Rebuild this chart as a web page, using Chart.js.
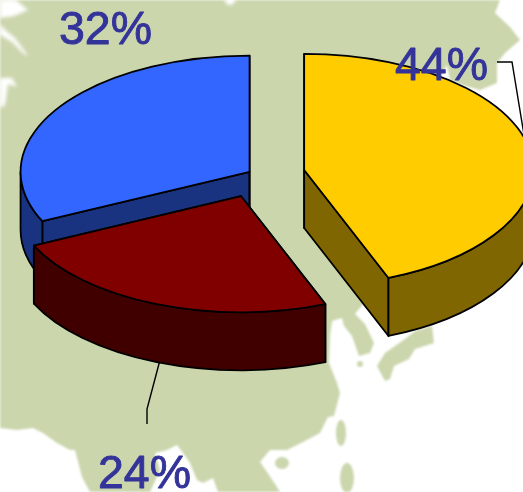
<!DOCTYPE html>
<html>
<head>
<meta charset="utf-8">
<title>Share chart</title>
<script src="https://cdn.jsdelivr.net/npm/chart.js@4"></script>
<style>
    html, body { margin: 0; padding: 0; background: #fff; overflow: hidden; }
    #wrap { position: relative; width: 523px; height: 492px; overflow: hidden; }
    #map { position: absolute; left: 0; top: 0; filter: blur(0.8px); }
    #chartpie { position: absolute; left: 0; top: 0; }
</style>
</head>
<body>
<div id="wrap">
    <!-- map behind the pie -->
    <svg id="map" width="523" height="492" viewBox="0 0 523 492">
        <defs><filter id="soft"><feGaussianBlur stdDeviation="1.6"/></filter></defs>
        <g fill="#cbd6ad">
            <polygon points="0,0 500,0 495,13 510,27 520,40 505,53 497,63 497,83 480,90 462,85 450,80 447,65 443,72 420,150 400,250 364,303 355,314 365,324 374,343 370,353 359,356 352,336 344,326 342,318 332,321 330,336 329,363 337,383 340,393 334,416 328,417 320,433 303,442 287,450 270,450 260,462 267,472 277,487 280,492 218,492 213,478 203,483 197,480 190,463 183,453 177,445 167,450 155,453 160,470 150,492 90,492 82,477 75,450 70,450 57,443 43,433 33,428 17,430 0,428"/>
            <ellipse cx="282" cy="463" rx="7" ry="6"/>
            <ellipse cx="341" cy="433" rx="5" ry="13"/>
            <ellipse cx="347" cy="478" rx="7" ry="15"/>
            <polygon points="432,326 434,343 415,349 409,359 394,366 390,379 385,381 377,366 385,353 405,339 415,331"/>
            <circle cx="360" cy="364" r="3"/>
        </g>
        <g fill="#fff" filter="url(#soft)">
            <polygon points="0,0 16,0 28,10 14,16 0,18"/>
            <polygon points="0,24 5,30 15,38 24,50 28,56 24,54 12,42 2,36 0,35"/>
            <polygon points="0,78 12,78 17,87 8,84 5,105 0,108"/>
            <circle cx="230" cy="0" r="5"/>
        </g>
    </svg>
    <canvas id="chartpie" width="523" height="492"></canvas>
</div>
<script>
const categories = ['Yellow', 'Red', 'Blue'];
const shareValues = [44, 24, 32];

const topColors = ['#ffcc00', '#800000', '#3366ff'];
const wallColors = ['#806600', '#400000', '#1a3380'];
const sliceOffsets = [47, 46, 10];

// Tilted pie: reads the arc geometry from Chart.js and paints it as a squashed disc with a wall
const tiltedPie = {
    id: 'tiltedPie',
    beforeDatasetDraw(chart, args, opts) {
        const ctx = chart.ctx;
        const arcs = chart.getDatasetMeta(0).data;

        // Leader lines go under the slices
        ctx.save();
        ctx.strokeStyle = '#000';
        ctx.lineWidth = 1.4;
        opts.leaders.forEach(line => {
            ctx.beginPath();
            line.forEach((p, i) => i ? ctx.lineTo(p[0], p[1]) : ctx.moveTo(p[0], p[1]));
            ctx.stroke();
        });

        ctx.lineWidth = 1.8;
        ctx.lineJoin = 'round';
        ctx.strokeStyle = '#000';

        // Back to front: last slice first
        for (let i = arcs.length - 1; i >= 0; i--) {
            const arc = arcs[i];
            const mid = (arc.startAngle + arc.endAngle) / 2;
            const offset = arc.options.offset;
            const cx = arc.x + Math.cos(mid) * offset;
            const cy = arc.y + Math.sin(mid) * offset * opts.tilt;
            const rx = arc.outerRadius;
            const ry = rx * opts.tilt;
            const d = opts.depth;

            // Cut faces
            [arc.startAngle, arc.endAngle].forEach(a => {
                const ex = cx + Math.cos(a) * rx;
                const ey = cy + Math.sin(a) * ry;
                ctx.beginPath();
                ctx.moveTo(cx, cy);
                ctx.lineTo(ex, ey);
                ctx.lineTo(ex, ey + d);
                ctx.lineTo(cx, cy + d);
                ctx.closePath();
                ctx.fillStyle = wallColors[i];
                ctx.fill();
                ctx.stroke();
            });

            // Rim, only the part that faces the viewer
            const from = Math.max(arc.startAngle, 0);
            const to = Math.min(arc.endAngle, Math.PI);
            if (to > from) {
                ctx.beginPath();
                ctx.ellipse(cx, cy, rx, ry, 0, from, to);
                ctx.ellipse(cx, cy + d, rx, ry, 0, to, from, true);
                ctx.closePath();
                ctx.fillStyle = wallColors[i];
                ctx.fill();
                ctx.stroke();
            }

            // Top face
            ctx.beginPath();
            ctx.moveTo(cx, cy);
            ctx.ellipse(cx, cy, rx, ry, 0, arc.startAngle, arc.endAngle);
            ctx.closePath();
            ctx.fillStyle = topColors[i];
            ctx.fill();
            ctx.stroke();
        }
        ctx.restore();
        return false;
    },
    afterDatasetsDraw(chart, args, opts) {
        const ctx = chart.ctx;
        ctx.save();
        ctx.fillStyle = '#333399';
        ctx.strokeStyle = '#333399';
        ctx.lineWidth = 0.9;
        ctx.lineJoin = 'round';
        ctx.font = '46.5px "Liberation Sans", Arial, sans-serif';
        ctx.textAlign = 'left';
        ctx.textBaseline = 'alphabetic';
        shareValues.forEach((v, i) => {
            ctx.fillText(v + '%', opts.labelAt[i][0], opts.labelAt[i][1]);
            ctx.strokeText(v + '%', opts.labelAt[i][0], opts.labelAt[i][1]);
        });
        ctx.restore();
    }
};

new Chart(document.getElementById('chartpie'), {
    type: 'pie',
    data: {
        labels: categories,
        datasets: [{
            data: shareValues,
            backgroundColor: topColors,
            offset: sliceOffsets,
            borderWidth: 0
        }]
    },
    options: {
        responsive: false,
        animation: false,
        radius: 229,
        layout: { padding: { right: 7, bottom: 143 } },
        plugins: {
            legend: { display: false },
            tooltip: { enabled: false },
            tiltedPie: {
                tilt: 0.507,
                depth: 58,
                labelAt: [[395, 80], [98, 488], [59, 44]],
                leaders: [
                    [[497, 62], [512, 62], [524, 135]],
                    [[160, 360], [147, 409], [147, 424]]
                ]
            }
        }
    },
    plugins: [tiltedPie]
});
</script>
</body>
</html>
